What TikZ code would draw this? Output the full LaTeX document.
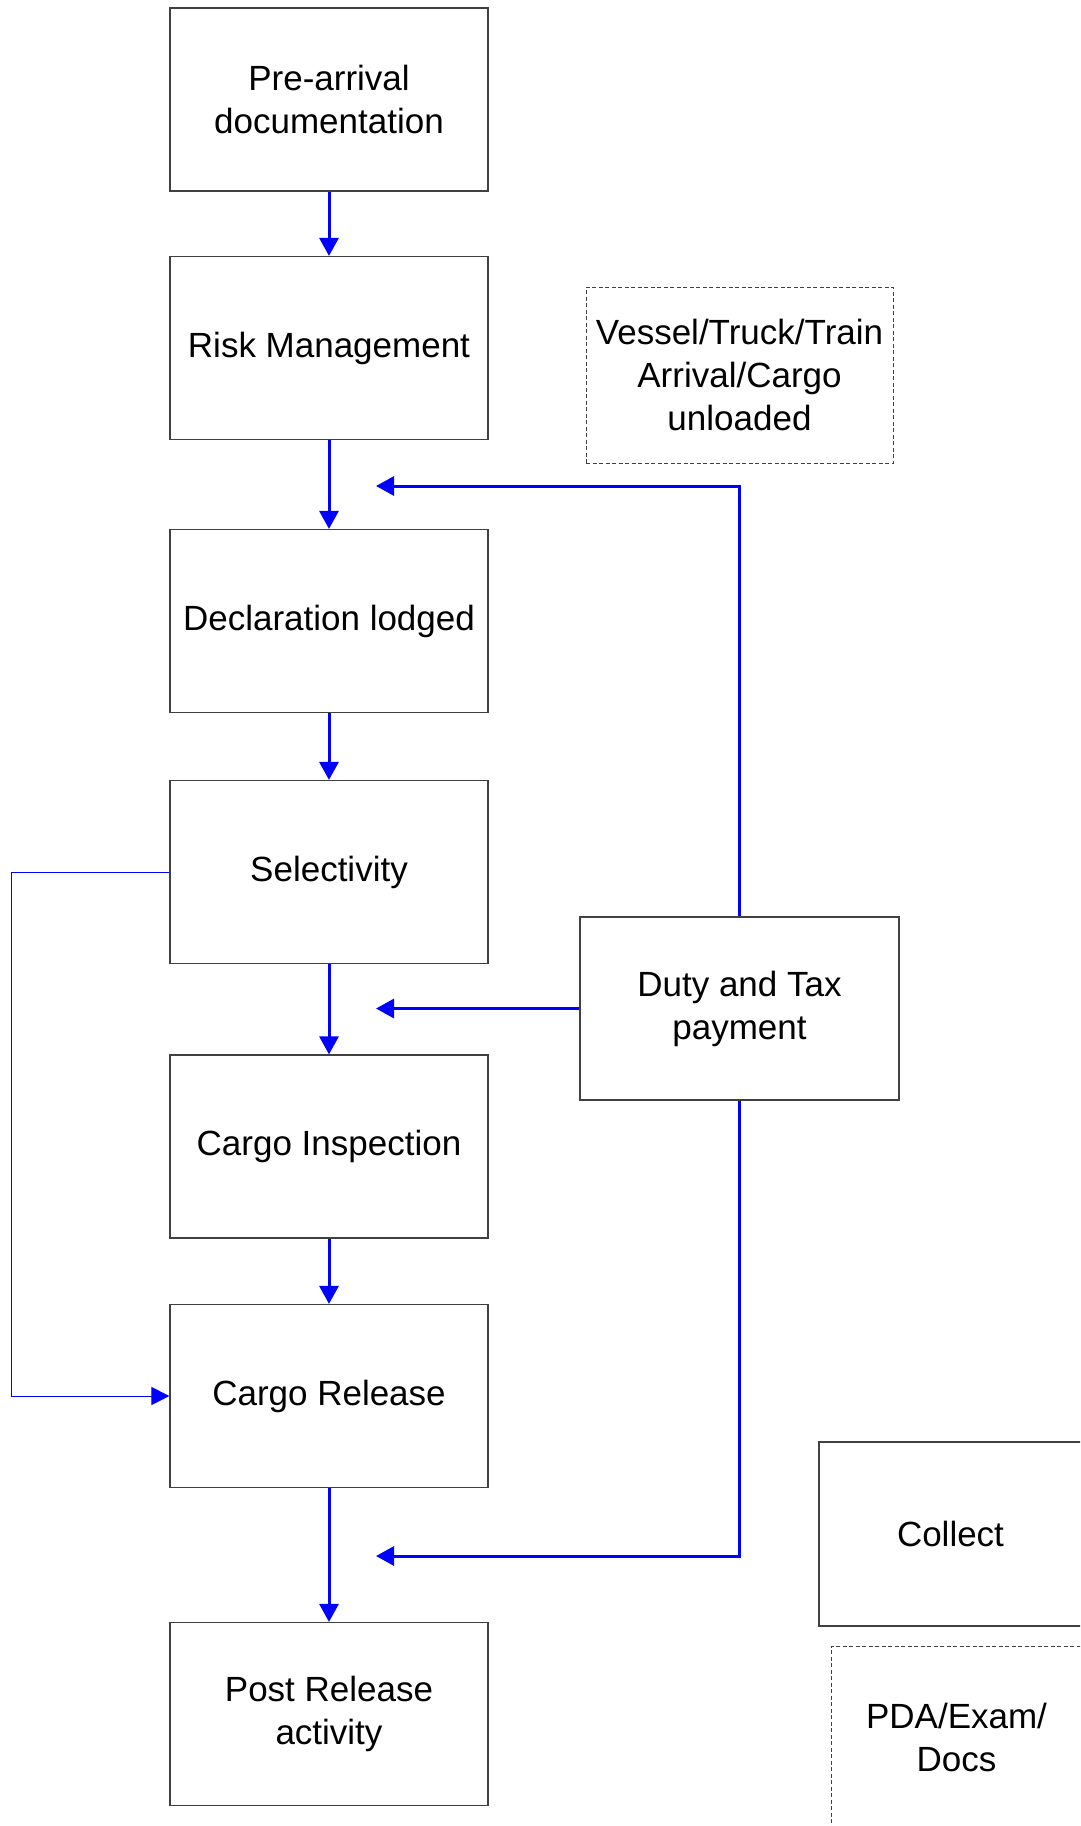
\documentclass[tikz,border=0pt]{standalone}
\usepackage{fontspec}
\setmainfont{Liberation Sans}
\usetikzlibrary{arrows.meta}
\tikzset{
  box/.style={draw=black!75, line width=1.2pt, fill=white, align=center, inner sep=0pt,
    font=\fontsize{35}{43}\selectfont},
  mainbox/.style={box, minimum width=318pt, minimum height=183pt},
  dbox/.style={box, dash pattern=on 4pt off 2.5pt, line width=1pt},
  flow/.style={draw=blue, line width=3pt, -{Triangle[length=18pt,width=19pt]}},
  thinflow/.style={draw=blue, line width=1pt, -{Triangle[length=18pt,width=18pt]}},
}
\begin{document}
\begin{tikzpicture}[x=1pt,y=-1pt]
\useasboundingbox (0,0) rectangle (1080,1826);
\clip (0,0) rectangle (1080,1826);
\fill[white] (0,0) rectangle (1080,1826);

\node[mainbox] (pre)  at (329,99.5) {Pre-arrival\\documentation};
\node[mainbox] (risk) at (329,348) {Risk Management};
\node[mainbox] (decl) at (329,621) {Declaration lodged};
\node[mainbox] (sel)  at (329,872) {Selectivity};
\node[mainbox] (insp) at (329,1146.5) {Cargo Inspection};
\node[mainbox] (rel)  at (329,1396) {Cargo Release};
\node[mainbox] (post) at (329,1714) {Post Release\\activity};

\node[dbox, minimum width=307pt, minimum height=176pt] (ves) at (739.5,375)
  {Vessel/Truck/Train\\Arrival/Cargo\\unloaded};
\node[box, minimum width=319pt, minimum height=183pt] (duty) at (739.5,1008.5)
  {Duty and Tax\\payment};
\node[box, minimum width=263pt, minimum height=184pt] (coll) at (950.5,1534) {Collect};
\node[dbox, minimum width=251pt, minimum height=183pt] (pda) at (956.5,1737.5)
  {PDA/Exam/\\Docs};

\coordinate (t1) at (376,486);
\coordinate (t2) at (376,1008.5);
\coordinate (t3) at (376,1556);
\coordinate (lc) at (11,872);

\draw[flow] (pre.south) -- (risk.north);
\draw[flow] (risk.south) -- (decl.north);
\draw[flow] (decl.south) -- (sel.north);
\draw[flow] (sel.south) -- (insp.north);
\draw[flow] (insp.south) -- (rel.north);
\draw[flow] (rel.south) -- (post.north);

\draw[flow] (duty.north) |- (t1);
\draw[flow] (duty.west) -- (t2);
\draw[flow] (duty.south) |- (t3);

\draw[thinflow] (sel.west) -- (lc) |- (rel.west);
\end{tikzpicture}
\end{document}
